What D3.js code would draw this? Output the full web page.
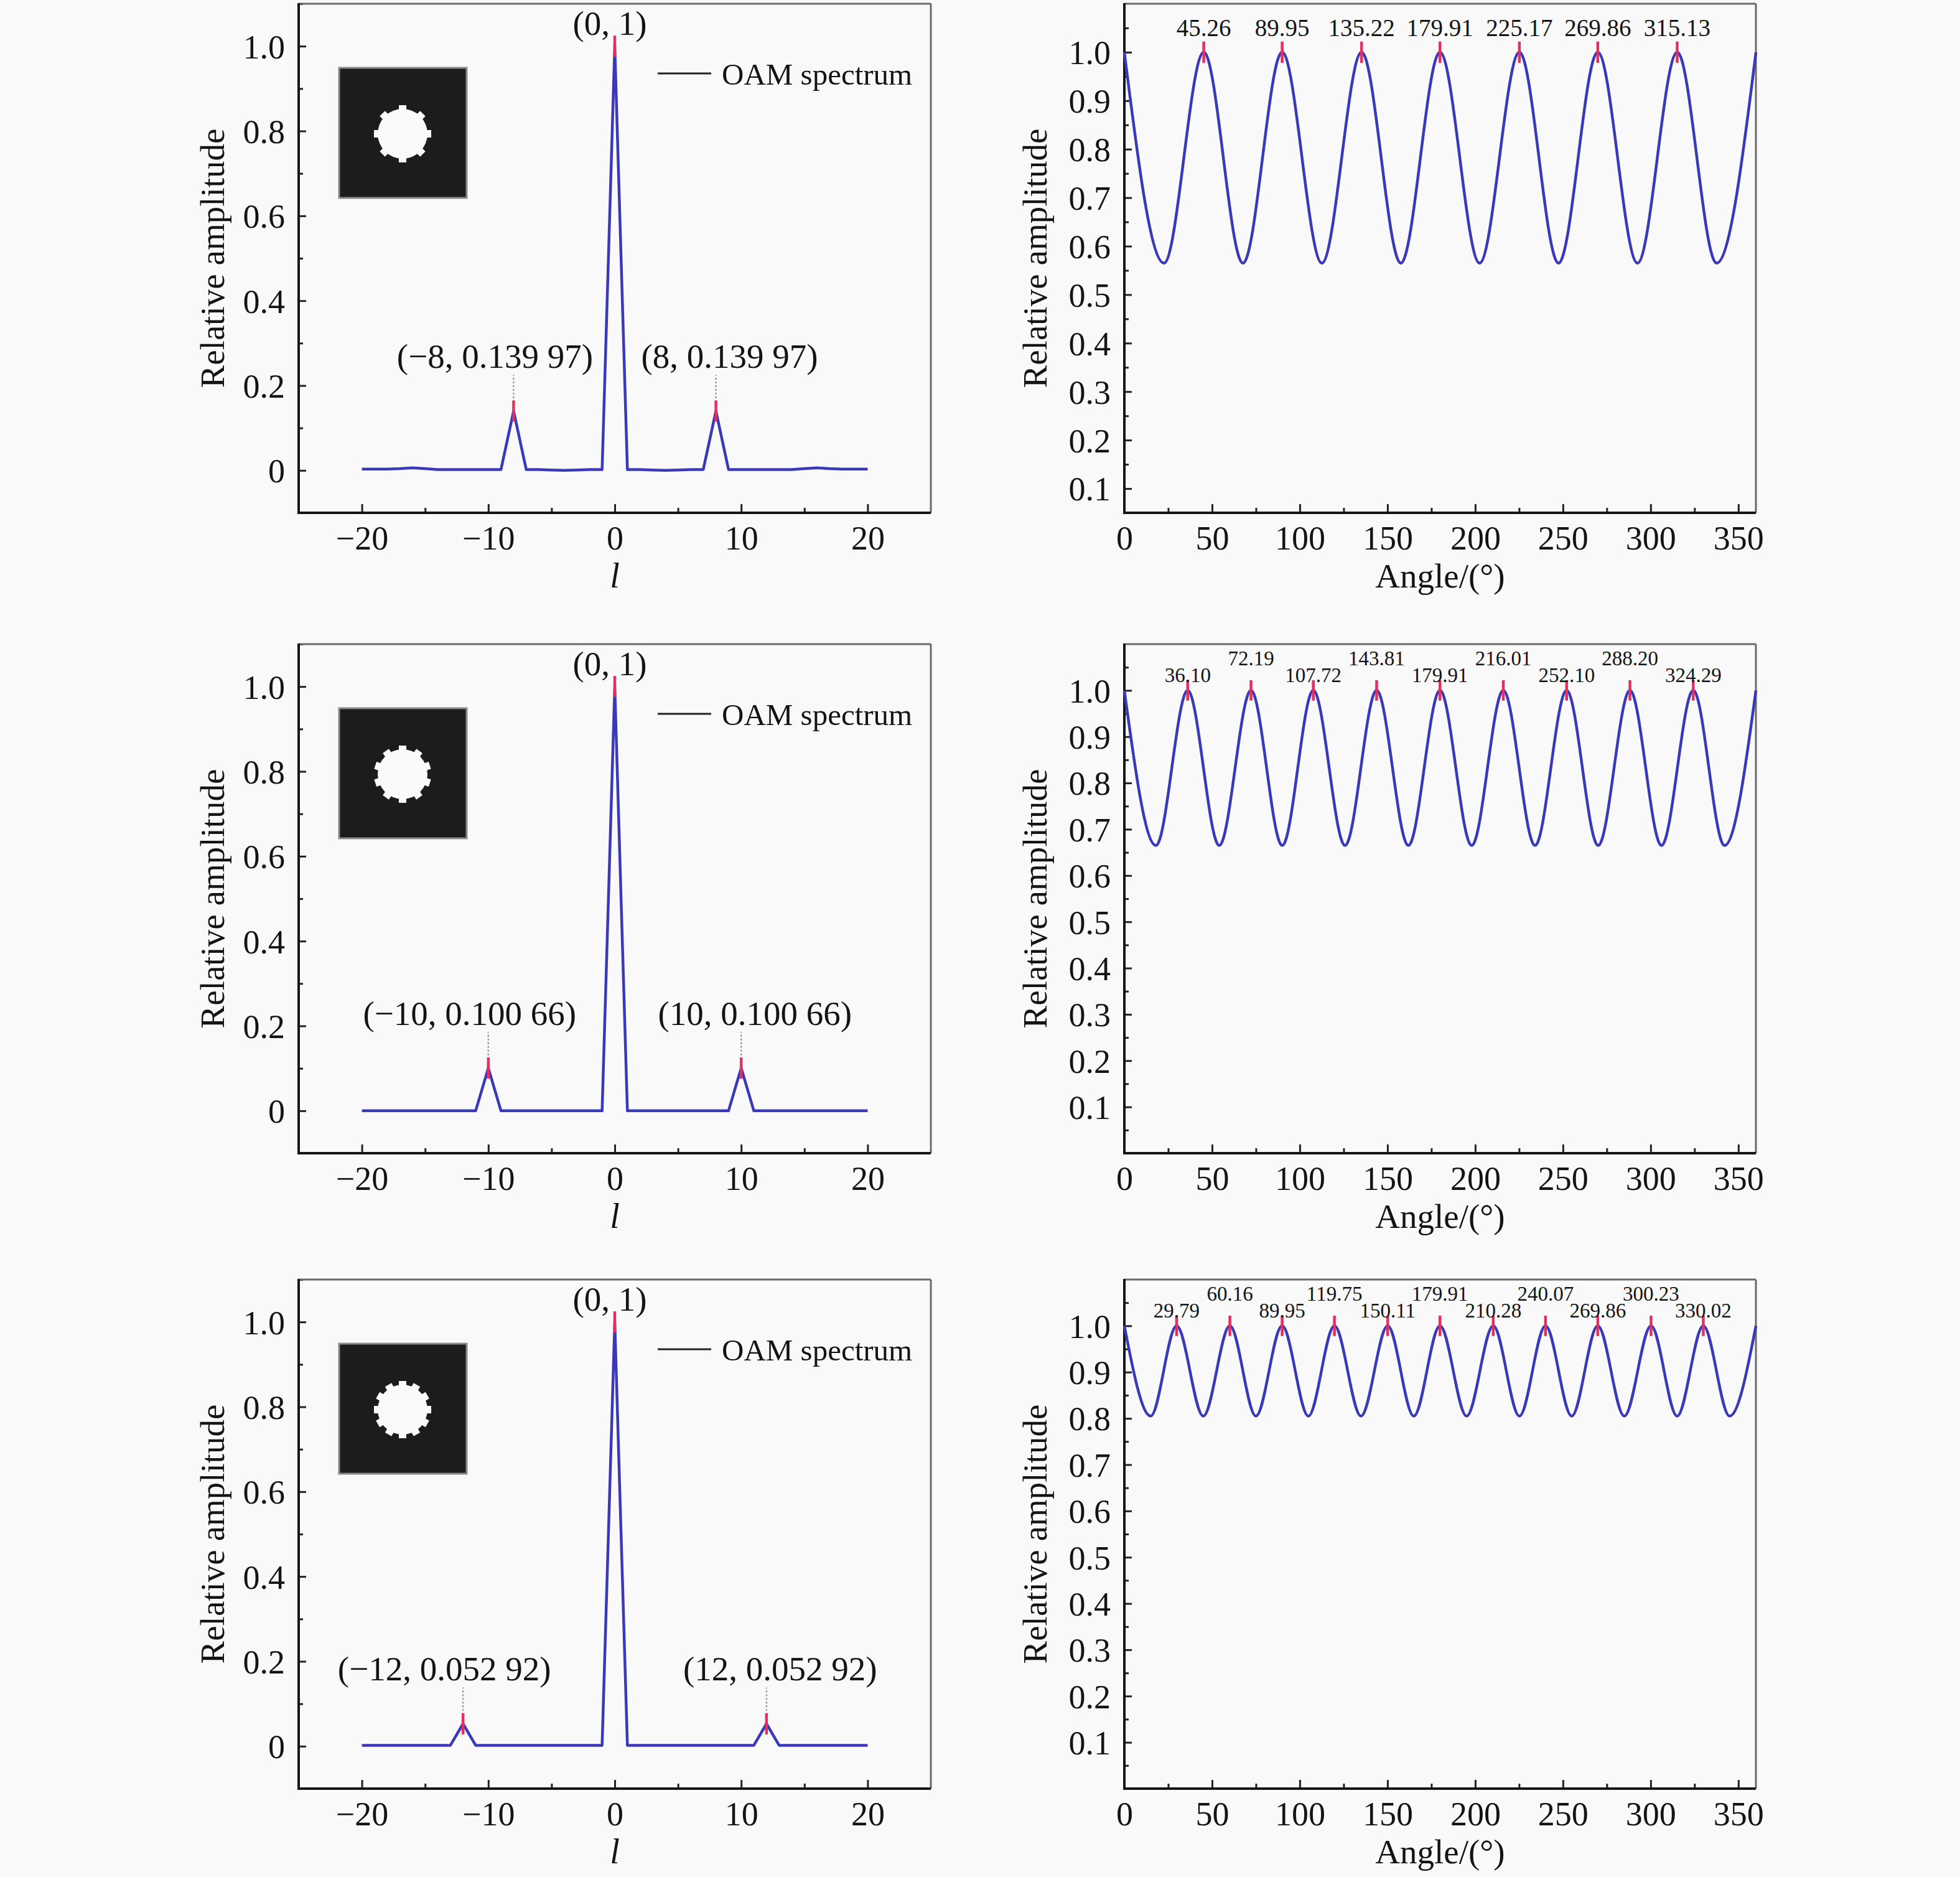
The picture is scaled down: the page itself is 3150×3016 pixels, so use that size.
<!DOCTYPE html>
<html><head><meta charset="utf-8">
<script src="https://cdn.jsdelivr.net/npm/d3@7"></script>
<style>
body{margin:0;background:#f9f9f9}
svg text{font-family:"Liberation Serif","Times New Roman",serif;fill:#141414}
</style>
</head><body>
<svg id="chart" width="3150" height="3016"></svg>
<script>
// ---------------- DATA ----------------
const orders = [8, 10, 12];                       // rotational symmetry of the insets
const lValues = d3.range(-20, 21);                // OAM mode index l = -20 .. 20

const spectrum1 = [0.003,0.003,0.003,0.004,0.006,0.004,0.002,0.002,0.002,0.002,0.002,0.002,
  0.13997,
  0.002,0.002,0.001,0.000,0.001,0.002,0.002,
  1.0,
  0.002,0.002,0.001,0.000,0.001,0.002,0.002,
  0.13997,
  0.002,0.002,0.002,0.002,0.002,0.002,0.004,0.006,0.004,0.003,0.003,0.003];
const spectrum2 = [0,0,0,0,0,0,0,0,0,0,
  0.10066,
  0,0,0,0,0,0,0,0,0,
  1.0,
  0,0,0,0,0,0,0,0,0,
  0.10066,
  0,0,0,0,0,0,0,0,0,0];
const spectrum3 = [0.002,0.002,0.002,0.002,0.002,0.002,0.002,0.002,
  0.05292,
  0.002,0.002,0.002,0.002,0.002,0.002,0.002,0.002,0.002,0.002,0.002,
  1.0,
  0.002,0.002,0.002,0.002,0.002,0.002,0.002,0.002,0.002,0.002,0.002,
  0.05292,
  0.002,0.002,0.002,0.002,0.002,0.002,0.002,0.002];

const sidePeakL = [8, 10, 12];
const sidePeakV = [0.13997, 0.10066, 0.05292];
const sideLabelsNeg = ["(\u22128, 0.139 97)", "(\u221210, 0.100 66)", "(\u221212, 0.052 92)"];
const sideLabelsPos = ["(8, 0.139 97)", "(10, 0.100 66)", "(12, 0.052 92)"];
const centerLabel = "(0, 1)";

// angular amplitude: extrema (angle in degrees, relative amplitude)
const angles1 = [0,22.6,45.26,67.6,89.95,112.6,135.22,157.6,179.91,202.5,225.17,247.5,269.86,292.5,315.13,337.6,360];
const amp1    = [1.0,0.565,1.0,0.565,1.0,0.565,1.0,0.565,1.0,0.565,1.0,0.565,1.0,0.565,1.0,0.565,1.0];
const angles2 = [0,18.0,36.10,54.1,72.19,90.0,107.72,125.8,143.81,161.9,179.91,198.0,216.01,234.1,252.10,270.1,288.20,306.2,324.29,342.1,360];
const amp2    = [1.0,0.665,1.0,0.665,1.0,0.665,1.0,0.665,1.0,0.665,1.0,0.665,1.0,0.665,1.0,0.665,1.0,0.665,1.0,0.665,1.0];
const angles3 = [0,15.0,29.79,45.0,60.16,75.0,89.95,104.9,119.75,134.9,150.11,165.0,179.91,195.1,210.28,225.2,240.07,255.0,269.86,285.0,300.23,315.1,330.02,345.0,360];
const amp3    = [1.0,0.805,1.0,0.805,1.0,0.805,1.0,0.805,1.0,0.805,1.0,0.805,1.0,0.805,1.0,0.805,1.0,0.805,1.0,0.805,1.0,0.805,1.0,0.805,1.0];

const peaks1 = [45.26, 89.95, 135.22, 179.91, 225.17, 269.86, 315.13];
const peaks2 = [36.10, 72.19, 107.72, 143.81, 179.91, 216.01, 252.10, 288.20, 324.29];
const peaks3 = [29.79, 60.16, 89.95, 119.75, 150.11, 179.91, 210.28, 240.07, 269.86, 300.23, 330.02];

const leftXTicks = [-20, -10, 0, 10, 20];
const leftXMinor = [-15, -5, 5, 15];
const leftYTicks = [0, 0.2, 0.4, 0.6, 0.8, 1.0];
const leftYMinor = [-0.1, 0.1, 0.3, 0.5, 0.7, 0.9, 1.1];
const rightXTicks = [0, 50, 100, 150, 200, 250, 300, 350];
const rightXMinor = [25, 75, 125, 175, 225, 275, 325];
const rightYTicks = [0.1, 0.2, 0.3, 0.4, 0.5, 0.6, 0.7, 0.8, 0.9, 1.0];
const rightYMinor = [0.05, 0.15, 0.25, 0.35, 0.45, 0.55, 0.65, 0.75, 0.85, 0.95, 1.05];
const rightYDomains = [[0.05, 1.1], [0, 1.1], [0, 1.1]];

const spectra = [spectrum1, spectrum2, spectrum3];
const angleSets = [angles1, angles2, angles3];
const ampSets = [amp1, amp2, amp3];
const peakSets = [peaks1, peaks2, peaks3];

// ---------------- LAYOUT ----------------
const rowTops = [6, 1035, 2056];
const H = 818;
const LX = [480, 1496], RX = [1807, 2822];
const FONT = "Liberation Serif, Times New Roman, serif";
const lineColor = "#3a3ab8", redColor = "#e2305f";

const svg = d3.select("#chart");
const fmtMinus = d => (d < 0 ? "\u2212" + Math.abs(d) : String(d));

function styleAxis(g, fontSize) {
  g.select(".domain").remove();
  g.selectAll(".tick line").attr("stroke", "#222").attr("stroke-width", 3);
  g.selectAll("text").attr("font-size", fontSize).attr("font-family", FONT).attr("fill", "#141414");
}

function frame(g, x0, x1, y0, y1) {
  g.append("line").attr("x1", x0).attr("x2", x1).attr("y1", y0).attr("y2", y0).attr("stroke", "#6a6a6a").attr("stroke-width", 3);
  g.append("line").attr("x1", x1).attr("x2", x1).attr("y1", y0).attr("y2", y1).attr("stroke", "#6a6a6a").attr("stroke-width", 3);
  g.append("line").attr("x1", x0).attr("x2", x1).attr("y1", y1).attr("y2", y1).attr("stroke", "#151515").attr("stroke-width", 4);
  g.append("line").attr("x1", x0).attr("x2", x0).attr("y1", y0 - 1).attr("y2", y1 + 2).attr("stroke", "#151515").attr("stroke-width", 4);
}

function drawLeft(row) {
  const top = rowTops[row], bot = top + H;
  const g = svg.append("g");
  const x = d3.scaleLinear([-25, 25], LX);
  const y = d3.scaleLinear([-0.1, 1.1], [bot, top]);

  const gx = g.append("g").attr("transform", `translate(0,${bot})`)
    .call(d3.axisBottom(x).tickValues(leftXTicks).tickSize(-14).tickFormat(fmtMinus));
  styleAxis(gx, 54);
  gx.selectAll("text").attr("y", 59).attr("dy", null);
  const gxm = g.append("g").attr("transform", `translate(0,${bot})`)
    .call(d3.axisBottom(x).tickValues(leftXMinor).tickSize(-8).tickFormat(""));
  styleAxis(gxm, 54);

  const gy = g.append("g").attr("transform", `translate(${LX[0]},0)`)
    .call(d3.axisLeft(y).tickValues(leftYTicks).tickSize(-12).tickFormat(d => d === 0 ? "0" : d3.format(".1f")(d)));
  styleAxis(gy, 54);
  gy.selectAll("text").attr("x", -22).attr("dy", "0.35em");
  const gym = g.append("g").attr("transform", `translate(${LX[0]},0)`)
    .call(d3.axisLeft(y).tickValues(leftYMinor).tickSize(-7).tickFormat(""));
  styleAxis(gym, 54);

  frame(g, LX[0], LX[1], top, bot);

  g.append("text").attr("x", x(0)).attr("y", bot + 120).attr("text-anchor", "middle")
    .attr("font-size", 56).attr("font-style", "italic").text("l");
  g.append("text").attr("transform", `translate(360,${(top + bot) / 2}) rotate(-90)`)
    .attr("text-anchor", "middle").attr("font-size", 55).text("Relative amplitude");

  // inset image
  const ins = g.append("g");
  ins.append("rect").attr("x", 545).attr("y", top + 103).attr("width", 205).attr("height", 209)
    .attr("fill", "#1c1c1c").attr("stroke", "#8a8a8a").attr("stroke-width", 3);
  const cx = 647, cy = top + 209;
  ins.append("circle").attr("cx", cx).attr("cy", cy).attr("r", 40).attr("fill", "#fafafa");
  ins.selectAll("rect.tooth").data(d3.range(orders[row])).join("rect").attr("class", "tooth")
    .attr("transform", i => `translate(${cx},${cy}) rotate(${i * 360 / orders[row]})`)
    .attr("x", -6).attr("y", -46).attr("width", 12).attr("height", 11).attr("fill", "#fafafa");

  // legend
  g.append("line").attr("x1", 1057).attr("x2", 1143).attr("y1", top + 112).attr("y2", top + 112)
    .attr("stroke", "#222").attr("stroke-width", 3);
  g.append("text").attr("x", 1160).attr("y", top + 130).attr("font-size", 49).text("OAM spectrum");

  const data = lValues.map((l, i) => [l, spectra[row][i]]);
  g.append("path").datum(data)
    .attr("d", d3.line().x(d => x(d[0])).y(d => y(d[1])))
    .attr("fill", "none").attr("stroke", lineColor).attr("stroke-width", 4.5).attr("stroke-linejoin", "round");

  const pk = [[-sidePeakL[row], sidePeakV[row]], [0, 1.0], [sidePeakL[row], sidePeakV[row]]];
  g.selectAll("line.tip").data(pk).join("line").attr("class", "tip")
    .attr("x1", d => x(d[0])).attr("x2", d => x(d[0]))
    .attr("y1", d => y(d[1] - 0.025)).attr("y2", d => y(d[1] + 0.025))
    .attr("stroke", redColor).attr("stroke-width", 4.5);
  const side = [pk[0], pk[2]];
  g.selectAll("line.lead").data(side).join("line").attr("class", "lead")
    .attr("x1", d => x(d[0])).attr("x2", d => x(d[0]))
    .attr("y1", d => y(d[1] + 0.03)).attr("y2", d => y(d[1] + 0.085))
    .attr("stroke", "#9a9a9a").attr("stroke-width", 2.5).attr("stroke-dasharray", "3,3");
  g.append("text").attr("x", x(-sidePeakL[row]) - 30).attr("y", y(sidePeakV[row] + 0.102))
    .attr("text-anchor", "middle").attr("font-size", 55).text(sideLabelsNeg[row]);
  g.append("text").attr("x", x(sidePeakL[row]) + 22).attr("y", y(sidePeakV[row] + 0.102))
    .attr("text-anchor", "middle").attr("font-size", 55).text(sideLabelsPos[row]);
  g.append("text").attr("x", x(0) - 8).attr("y", y(1.026))
    .attr("text-anchor", "middle").attr("font-size", 55).text(centerLabel);
}

function drawRight(row) {
  const top = rowTops[row], bot = top + H;
  const g = svg.append("g");
  const x = d3.scaleLinear([0, 360], RX);
  const y = d3.scaleLinear(rightYDomains[row], [bot, top]);

  const gx = g.append("g").attr("transform", `translate(0,${bot})`)
    .call(d3.axisBottom(x).tickValues(rightXTicks).tickSize(-14).tickFormat(d => String(d)));
  styleAxis(gx, 54);
  gx.selectAll("text").attr("y", 59).attr("dy", null);
  const gxm = g.append("g").attr("transform", `translate(0,${bot})`)
    .call(d3.axisBottom(x).tickValues(rightXMinor).tickSize(-8).tickFormat(""));
  styleAxis(gxm, 54);

  const gy = g.append("g").attr("transform", `translate(${RX[0]},0)`)
    .call(d3.axisLeft(y).tickValues(rightYTicks).tickSize(-12).tickFormat(d3.format(".1f")));
  styleAxis(gy, 54);
  gy.selectAll("text").attr("x", -22).attr("dy", "0.35em");
  const minor = rightYMinor.filter(v => v > rightYDomains[row][0] + 0.001);
  const gym = g.append("g").attr("transform", `translate(${RX[0]},0)`)
    .call(d3.axisLeft(y).tickValues(minor).tickSize(-7).tickFormat(""));
  styleAxis(gym, 54);

  frame(g, RX[0], RX[1], top, bot);

  g.append("text").attr("x", (RX[0] + RX[1]) / 2).attr("y", bot + 120).attr("text-anchor", "middle")
    .attr("font-size", 55).text("Angle/(\u00b0)");
  g.append("text").attr("transform", `translate(1682,${(top + bot) / 2}) rotate(-90)`)
    .attr("text-anchor", "middle").attr("font-size", 55).text("Relative amplitude");

  const data = angleSets[row].map((a, i) => [a, ampSets[row][i]]);
  g.append("path").datum(data)
    .attr("d", d3.line().curve(d3.curveMonotoneX).x(d => x(d[0])).y(d => y(d[1])))
    .attr("fill", "none").attr("stroke", lineColor).attr("stroke-width", 4.5);

  const peaks = peakSets[row];
  g.selectAll("line.tip").data(peaks).join("line").attr("class", "tip")
    .attr("x1", d => x(d)).attr("x2", d => x(d))
    .attr("y1", y(0.978)).attr("y2", y(1.022))
    .attr("stroke", redColor).attr("stroke-width", 4.5);
  const fs = row === 0 ? 39 : 33;
  g.selectAll("text.pk").data(peaks).join("text").attr("class", "pk")
    .attr("x", d => x(d))
    .attr("y", (d, i) => top + (row === 0 ? 52 : (i % 2 === 0 ? 61 : 34)))
    .attr("text-anchor", "middle").attr("font-size", fs)
    .text(d => d3.format(".2f")(d));
}

[0, 1, 2].forEach(r => { drawLeft(r); drawRight(r); });
</script>
</body></html>
